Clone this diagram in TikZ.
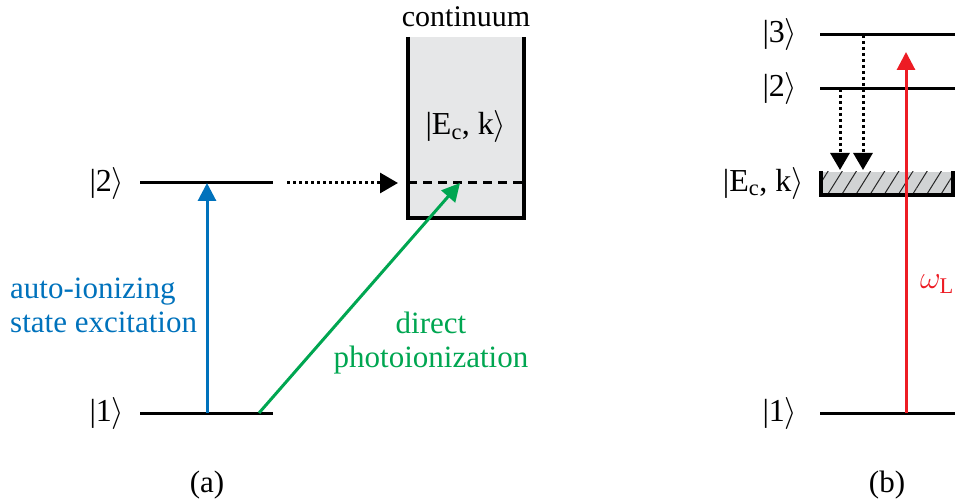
\RequirePackage{fix-cm}
\documentclass[tikz,border=0pt]{standalone}
\usepackage{fontspec}
\setmainfont{Liberation Serif}
\usetikzlibrary{arrows.meta,patterns.meta}
\definecolor{cblue}{RGB}{0,114,188}
\definecolor{cgreen}{RGB}{0,166,81}
\definecolor{cred}{RGB}{237,28,36}
\definecolor{cgrey}{RGB}{230,231,232}
\definecolor{chatch}{RGB}{209,211,212}
\tikzset{
  level/.style={line width=3pt},
  lbl/.style={font=\fontsize{31}{34}\selectfont, inner sep=0pt},
  ket/.style={font=\fontsize{32}{34}\selectfont, inner sep=0pt},
  tip/.style={-{Triangle[length=18pt,width=18pt]}},
  trans/.style={line width=3pt, tip},
  dotarrow/.style={line width=3pt, dash pattern=on 3pt off 3pt, -{Triangle[length=17pt,width=19pt]}},
}
\begin{document}
\begin{tikzpicture}[x=1pt,y=-1pt]
\useasboundingbox (0,0) rectangle (959,500);
% ---------- panel (a)
\coordinate (a2l) at (140,183); \coordinate (a2r) at (273,183);
\coordinate (a1l) at (140,413); \coordinate (a1r) at (273,413);
\draw[level] (a2l) -- (a2r);
\draw[level] (a1l) -- (a1r);
\node[ket] (ka2) at (107,183) {|2$\rangle$};
\node[ket] (ka1) at (107,413) {|1$\rangle$};
% continuum box
\coordinate (ctl) at (408,37); \coordinate (ctr) at (524,37);
\coordinate (cbl) at (408,218); \coordinate (cbr) at (524,218);
\fill[cgrey] (ctl) rectangle (cbr);
\draw[line width=3.5pt] (ctl) -- (cbl) -- (cbr) -- (ctr);
\coordinate (dl) at (408,183); \coordinate (dr) at (524,183);
\draw[line width=3pt, dash pattern=on 9pt off 6pt] (dl) -- (dr);
\node[lbl, font=\fontsize{30}{32}\selectfont] (cont) at (466,17) {continuum};
\node[ket] (eck) at (466,127) {|E\textsubscript{c}, k$\rangle$};
% arrows
\coordinate (bs) at (207,413); \coordinate (be) at (207,183);
\draw[trans, cblue] (bs) -- (be);
\coordinate (gs) at (259,413); \coordinate (ge) at (460,183);
\draw[trans, cgreen] (gs) -- (ge);
\coordinate (ds) at (287,183); \coordinate (de) at (398,183);
\draw[line width=3pt, dash pattern=on 3pt off 3pt, -{Triangle[length=18pt,width=20pt]}] (ds) -- (de);
\node[lbl, cblue, align=left, anchor=base west] (blab) at (10,332) {auto-ionizing\\state excitation};
\node[lbl, cgreen, align=center, anchor=base] (glab) at (431,367) {direct\\photoionization};
\node[lbl] (pa) at (207,485) {(a)};
% ---------- panel (b)
\coordinate (b3l) at (820,35); \coordinate (b3r) at (955,35);
\coordinate (b2l) at (820,89); \coordinate (b2r) at (955,89);
\coordinate (b1l) at (820,413); \coordinate (b1r) at (955,413);
\draw[level] (b3l) -- (b3r);
\draw[level] (b2l) -- (b2r);
\draw[level] (b1l) -- (b1r);
\node[ket] (kb3) at (780,35) {|3$\rangle$};
\node[ket] (kb2) at (780,89) {|2$\rangle$};
\node[ket] (kb1) at (780,413) {|1$\rangle$};
\coordinate (htl) at (821,172); \coordinate (hbr) at (953,195);
\fill[chatch] (htl) rectangle (hbr);
\fill[pattern={Lines[distance=12pt,angle=58,line width=1pt]}, pattern color=black!85] (htl) rectangle (hbr);
\draw[line width=3.5pt] (821,171) -- (821,195) -- (953,195) -- (953,171);
\node[ket, anchor=east] (eckb) at (804,183) {|E\textsubscript{c}, k$\rangle$};
\coordinate (r1) at (863,35); \coordinate (r1e) at (863,170);
\coordinate (r2) at (840,89); \coordinate (r2e) at (840,170);
\draw[dotarrow] (r1) -- (r1e);
\draw[dotarrow] (r2) -- (r2e);
\coordinate (rs) at (906,413); \coordinate (re) at (906,52);
\draw[trans, cred] (rs) -- (re);
\node[cred, inner sep=0pt, font=\fontsize{32}{34}\selectfont] (om) at (937,284) {$\omega_{\mathrm{L}}$};
\node[lbl] (pb) at (887,485) {(b)};
\end{tikzpicture}
\end{document}
